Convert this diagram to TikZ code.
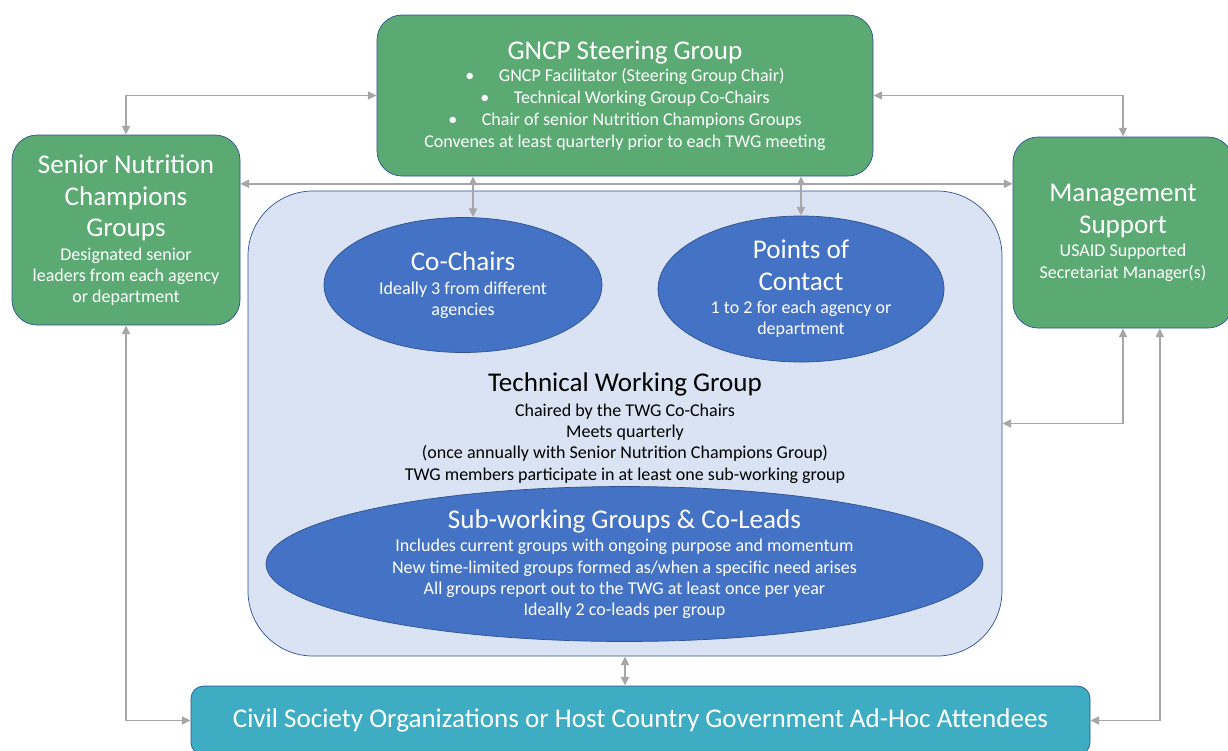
\documentclass[tikz,border=0pt]{standalone}
\usepackage{fontspec}
\setmainfont{Carlito}
\usetikzlibrary{arrows.meta,positioning,shapes}
\definecolor{steergreen}{RGB}{91,170,115}
\definecolor{ovalblue}{RGB}{68,114,196}
\definecolor{twgfill}{RGB}{218,227,243}
\definecolor{edgeblue}{RGB}{47,82,143}
\definecolor{csoteal}{RGB}{62,173,195}
\definecolor{arrgray}{RGB}{166,166,166}
\newcommand{\bigline}[1]{{\fontsize{15.4}{18}\selectfont #1}}
\newcommand{\bul}{\textbullet\hspace{14pt}}
\newcommand{\tightlines}{\lineskiplimit=-20pt\relax}
\tikzset{
    %Define standard arrow tip
    >={Triangle[length=5pt,width=4.5pt]},
    %Define style for boxes
    gbox/.style={
           rectangle,
           rounded corners=0.5cm,
           draw=edgeblue,
           fill=steergreen,
           text=white,
           align=center,
           inner sep=0pt},
    boval/.style={
           ellipse,
           draw=edgeblue,
           fill=ovalblue,
           text=white,
           align=center,
           inner sep=0pt},
    % Define arrow style
    biarr/.style={
           <->,
           draw=arrgray,
           line width=1.1pt}
}
\begin{document}
\begin{tikzpicture}[font=\fontsize{10.25}{12.1}\selectfont\tightlines]
    \useasboundingbox (0,0) rectangle (24.56,-15);
    % TECHNICAL WORKING GROUP
    \node[draw=edgeblue, fill=twgfill, rounded corners=1.3cm,
          minimum width=15.08cm, minimum height=9.3cm] at (12.5,-8.47) (twgBox) {};
    \node[boval, minimum width=5.56cm, minimum height=2.7cm] at (9.26,-5.7) (coChairs)
        {\bigline{Co-Chairs}\\[1.6pt]Ideally 3 from different\\agencies};
    \node[boval, minimum width=5.72cm, minimum height=2.92cm] at (16.02,-5.78) (pointsContact)
        {\bigline{Points of}\\[6pt]\bigline{Contact}\\[1pt]1 to 2 for each agency or\\department};
    \node[align=center] at (12.5,-8.56) (twgText)
        {\bigline{Technical Working Group}\\[2.1pt]Chaired by the TWG Co-Chairs\\Meets quarterly\\
         (once annually with Senior Nutrition Champions Group)\\
         TWG members participate in at least one sub-working group};
    \node[boval, minimum width=14.34cm, minimum height=3.04cm] at (12.49,-11.28) (subGroups)
        {\bigline{Sub-working Groups \& Co-Leads}\\[1.5pt]
         Includes current groups with ongoing purpose and momentum\\
         New time-limited groups formed as/when a specific need arises\\
         All groups report out to the TWG at least once per year\\
         Ideally 2 co-leads per group};

    % GREEN BOXES
    \node[gbox, minimum width=9.92cm, minimum height=3.22cm] at (12.5,-1.91) (steerGroup)
        {\bigline{GNCP Steering Group}\\[0.4pt]
         \bul GNCP Facilitator (Steering Group Chair)\\[0.4pt]
         \bul Technical Working Group Co-Chairs\\[0.4pt]
         \bul Chair of senior Nutrition Champions Groups\\[0.4pt]
         Convenes at least quarterly prior to each TWG meeting};
    \node[gbox, minimum width=4.56cm, minimum height=3.8cm] at (2.52,-4.6) (seniorChamp)
        {\bigline{Senior Nutrition}\\[6pt]\bigline{Champions}\\[6pt]\bigline{Groups}\\[1.1pt]
         Designated senior\\leaders from each agency\\or department};
    \node[gbox, minimum width=4.4cm, minimum height=3.82cm] at (22.46,-4.65) (mgmtSupport)
        {\bigline{Management}\\[6.4pt]\bigline{Support}\\[1.1pt]USAID Supported\\Secretariat Manager(s)};

    % ATTENDEES
    \node[draw=edgeblue, fill=csoteal, text=white, rounded corners=0.25cm,
          minimum width=17.98cm, minimum height=1.38cm] at (12.81,-14.41) (civilSociety)
        {\bigline{Civil Society Organizations or Host Country Government Ad-Hoc Attendees}};

    % CONNECTIONS
    \draw[biarr] (seniorChamp.north) |- (steerGroup.west);
    \draw[biarr] (steerGroup.east) -| (mgmtSupport.north);
    \draw[biarr] (seniorChamp.22) -- (seniorChamp.22 -| mgmtSupport.west);
    \draw[biarr] ([xshift=0.2cm]coChairs.north |- steerGroup.south) -- ([xshift=0.2cm]coChairs.north);
    \draw[biarr] (pointsContact.north |- steerGroup.south) -- (pointsContact.north);
    \draw[biarr] (mgmtSupport.south) |- (twgBox.east);
    \draw[biarr] (mgmtSupport.291) |- (civilSociety.east);
    \draw[biarr] (seniorChamp.south) |- (civilSociety.west);
    \draw[biarr] (twgBox.south) -- (twgBox.south |- civilSociety.north);
\end{tikzpicture}
\end{document}
